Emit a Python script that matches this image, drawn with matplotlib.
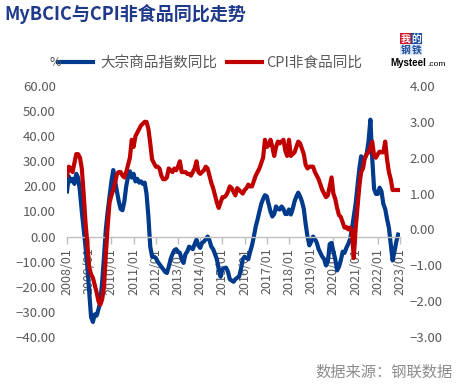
import numpy as np
import matplotlib.pyplot as plt
from matplotlib.lines import Line2D
from matplotlib.patches import Rectangle
from matplotlib.ticker import FuncFormatter

plt.rcParams['font.family'] = ['Noto Sans CJK SC', 'DejaVu Sans']

# monthly data 2008/01 - 2022/12
bcic = [18, 24, 22, 23, 21, 25, 23.5, 18, 10, 3, -4, -12,
        -22, -32, -34, -31, -31.5, -29, -26, -18, -8, 3, 10, 16,
        22, 26.5, 22, 18, 14, 11, 10.5, 14, 20, 24, 26, 23.5,
        25, 22, 23, 21.5, 22, 21, 21.5, 17, 8, -4, -8, -8,
        -8.5, -10, -11, -12, -13, -14, -14.5, -12, -9, -7, -5.5, -5,
        -6, -6.5, -9, -10.5, -7, -6, -4, -4.5, -5, -3, -1.2, -3.5,
        -4.5, -2.5, -2, -1, 0, -1.5, -4, -5, -7, -9, -13, -16,
        -13, -12.5, -12.4, -14, -17, -17.5, -18, -17, -16.4, -16, -13, -9,
        -8, -8.5, -9, -6, -3.5, 0, 4, 6.8, 10, 13, 15, 16.5,
        16, 13, 10, 8, 9, 12, 11, 10.8, 12, 11, 9, 9,
        10.8, 8.8, 11, 14, 16, 17.5, 16, 14, 11, 5, 0, -3.5,
        -2, 0, -1, -2.4, -5, -6.5, -8, -9, -11.5, -10, -3, -2.5,
        -6, -9, -13.5, -12, -9.5, -6, -6.5, -4.5, -3, -1, 3, 8,
        13, 20, 27, 32, 31, 31, 33, 38, 46.6, 31, 19, 17,
        17, 19.5, 18, 13, 11, 7, 3.5, -3, -9.5, -6, -2, 0.8]

cpi_nonfood = [1.5, 1.75, 1.7, 1.6, 1.85, 2.1, 2.1, 2.0, 1.7, 1.0, 0.2, -0.4,
               -1.05, -1.25, -1.35, -1.55, -1.75, -2.0, -2.1, -1.95, -1.6, -0.7, 0.1, 0.75,
               0.95, 1.1, 1.3, 1.55, 1.6, 1.6, 1.5, 1.45, 1.6, 1.8, 2.0, 2.5,
               2.3, 2.6, 2.7, 2.8, 2.9, 2.95, 3.0, 3.0, 2.8, 2.4, 1.95, 1.85,
               1.75, 1.75, 1.7, 1.5, 1.4, 1.4, 1.45, 1.7, 1.65, 1.6, 1.7, 1.65,
               1.75, 1.9, 1.6, 1.6, 1.6, 1.55, 1.55, 1.5, 1.6, 1.7, 1.9, 1.6,
               1.55, 1.6, 1.65, 1.75, 1.7, 1.5, 1.3, 1.15, 0.95, 0.75, 0.6, 0.75,
               0.9, 0.9, 0.95, 1.05, 1.2, 1.15, 1.05, 0.95, 1.15, 1.1, 1.05, 1.0,
               1.1, 1.15, 1.25, 1.2, 1.2, 1.35, 1.5, 1.6, 1.7, 1.85, 2.0, 2.5,
               2.3, 2.35, 2.5, 2.3, 2.05, 2.3, 2.45, 2.4, 2.45, 2.5, 2.2, 2.05,
               2.5, 2.05, 2.1, 2.15, 2.3, 2.45, 2.4, 2.25, 2.1, 1.8, 1.7, 1.75,
               1.75, 1.75, 1.6, 1.5, 1.4, 1.25, 1.1, 1.0, 0.9, 0.95, 1.2, 1.45,
               1.0, 0.85, 0.6, 0.4, 0.35, 0.2, 0.05, 0.07, 0.0, 0.05, -0.05, -0.8,
               0.0, 0.6, 1.2, 1.6, 1.7, 2.0, 2.1, 2.15, 2.3, 2.45, 2.05, 2.0,
               2.1, 2.17, 2.15, 2.15, 2.45, 1.95, 1.6, 1.4, 1.1, 1.1, 1.1, 1.1]

months = ['%d/%02d' % (y, m) for y in range(2008, 2024) for m in range(1, 13)][:181]
tick_labels = ['%d/01' % y for y in range(2008, 2024)]

W, H = 458, 385
fig = plt.figure(figsize=(W / 100, H / 100), dpi=100)

def fx(px):
    return px / W

def fy(py):
    return 1 - py / H

ax = fig.add_axes([fx(67), fy(337), fx(400) - fx(67), fy(86) - fy(337)])
ax2 = ax.twinx()

x = np.arange(len(bcic))
ax.plot(x, bcic, color='#003A8C', lw=3, solid_joinstyle='round')
ax2.plot(x, cpi_nonfood, color='#C00000', lw=3, solid_joinstyle='round')

ax.set_xlim(0, 180)
ax.set_ylim(-40, 60)
ax2.set_ylim(-3, 4)
ax.set_yticks(np.arange(-40, 61, 10))
ax2.set_yticks(np.arange(-3, 4.1, 1))

fmt = FuncFormatter(lambda v, p: ('%.2f' % v).replace('-', '\u2212'))
ax.yaxis.set_major_formatter(fmt)
ax2.yaxis.set_major_formatter(fmt)

ax.set_xticks([months.index(t) for t in tick_labels])
ax.set_xticklabels(tick_labels)

for s in ['top', 'left', 'right']:
    ax.spines[s].set_visible(False)
for s in ax2.spines.values():
    s.set_visible(False)
ax.spines['bottom'].set_position(('data', 0))
ax.spines['bottom'].set_color('#BFBFBF')
ax.spines['bottom'].set_linewidth(1)

ax.tick_params(axis='x', direction='out', length=5, width=1, color='#BFBFBF',
               labelcolor='#595959', labelsize=9, pad=3, labelrotation=90)
for lab in ax.get_xticklabels():
    lab.set_va('top')
    lab.set_ha('center')
ax.tick_params(axis='y', length=0, labelcolor='#595959', labelsize=9.5, pad=8)
ax2.tick_params(axis='y', length=0, labelcolor='#595959', labelsize=9.5, pad=7)

# title
fig.text(fx(4), fy(14), 'MyBCIC与CPI非食品同比走势', fontsize=13, fontweight='bold',
         color='#1F3A8A', va='center', ha='left')

# legend
fig.text(fx(50), fy(63), '%', fontsize=9, color='#595959', va='center', ha='left')
fig.add_artist(Line2D([fx(58), fx(93)], [fy(62), fy(62)], color='#003A8C', lw=3))
fig.text(fx(100), fy(63), '大宗商品指数同比', fontsize=10.5, color='#595959', va='center', ha='left')
fig.add_artist(Line2D([fx(227), fx(262)], [fy(62), fy(62)], color='#C00000', lw=3))
fig.text(fx(266), fy(63), 'CPI非食品同比', fontsize=10.5, color='#595959', va='center', ha='left')

# logo
boxes = [(400, 33, '我', '#D7192A', 'white'), (411, 33, '的', '#1C4E9C', 'white'),
         (400, 44, '钢', '#DCE6F4', '#1C4E9C'), (411, 44, '铁', '#DCE6F4', '#1C4E9C')]
for bx, by, ch, fc, tc in boxes:
    fig.add_artist(Rectangle((fx(bx), fy(by + 11)), 11 / W, 11 / H, facecolor=fc,
                             edgecolor='none', transform=fig.transFigure))
    fig.text(fx(bx + 5.5), fy(by + 5.5), ch, fontsize=7, color=tc, ha='center',
             va='center', fontweight='bold')
fig.text(fx(390), fy(63), 'Mysteel', fontsize=7, fontweight='bold', color='black',
         va='center', ha='left', family='Liberation Sans')
fig.text(fx(427), fy(64), '.com', fontsize=6, color='black', va='center', ha='left',
         family='Liberation Sans')

# source
fig.text(fx(453), fy(372), '数据来源：钢联数据', fontsize=11, color='#8C8C8C',
         va='center', ha='right')

fig.savefig('out.png', dpi=100)
